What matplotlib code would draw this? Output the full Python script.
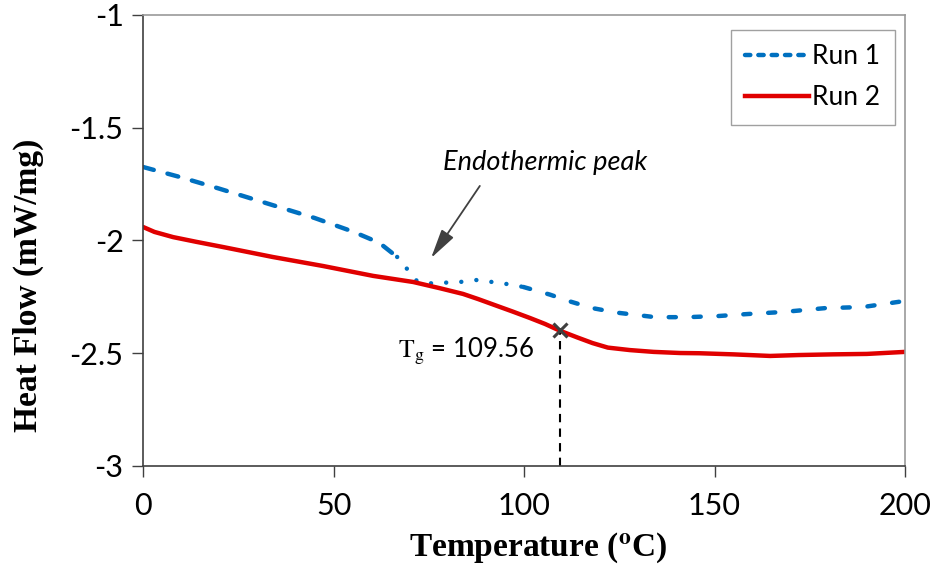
import numpy as np
import matplotlib.pyplot as plt

# DSC curves
run1_t = [0, 10, 20, 34, 45, 55, 62, 66.7, 69.3, 71.9, 75.3, 83.2, 87.7, 95.5, 99.8,
          106.8, 112, 118, 124.4, 134.4, 142.8, 151, 158.8, 168, 179, 189, 200]
run1_hf = [-1.674, -1.72, -1.77, -1.843, -1.90, -1.96, -2.01, -2.073, -2.126, -2.18,
           -2.19, -2.184, -2.175, -2.193, -2.206, -2.24, -2.27, -2.30, -2.32, -2.34,
           -2.34, -2.335, -2.326, -2.317, -2.30, -2.295, -2.268]
run2_t = [0, 3, 7.9, 14, 21, 34, 47.2, 60.4, 70.9, 78, 84, 88, 92.9, 97, 101.6, 105.5,
          109.4, 114, 118, 122, 127.8, 134, 141, 146, 155, 164.6, 172, 181, 190, 200]
run2_hf = [-1.94, -1.962, -1.985, -2.006, -2.029, -2.073, -2.113, -2.157, -2.184,
           -2.212, -2.237, -2.26, -2.29, -2.315, -2.344, -2.37, -2.40, -2.43, -2.455,
           -2.475, -2.486, -2.494, -2.499, -2.50, -2.505, -2.512, -2.508, -2.505,
           -2.503, -2.494]

tg = 109.56
tg_hf = -2.397

x_ticks = [0, 50, 100, 150, 200]
y_ticks = [-3, -2.5, -2, -1.5, -1]
y_ticklabels = ['-3', '-2.5', '-2', '-1.5', '-1']

plt.rcParams['font.family'] = ['Lato', 'DejaVu Sans']
plt.rcParams['mathtext.fontset'] = 'stix'

fig = plt.figure(figsize=(9.33, 5.66), dpi=100)
ax = fig.add_axes([0.1533, 0.1767, 0.8167, 0.7968])

blue = '#0070C0'
red = '#E00000'

t1 = np.array(run1_t)
h1 = np.array(run1_hf)
# excel dash pattern gets dotty where the curve bends
m1 = t1 <= 66.7
m2 = (t1 >= 66.7) & (t1 <= 99.8)
m3 = t1 >= 99.8
ax.plot(t1[m1], h1[m1], color=blue, lw=3.2, dashes=(2.5, 3.2), dash_capstyle='round')
ax.plot(t1[m2], h1[m2], color=blue, lw=3.2, dashes=(0.01, 3.4), dash_capstyle='round')
ax.plot(t1[m3], h1[m3], color=blue, lw=3.2, dashes=(1.6, 4.0), dash_capstyle='round')
ax.plot(run2_t, run2_hf, color=red, lw=3.2, solid_capstyle='round',
        solid_joinstyle='round')

# legend proxies
l1, = ax.plot([], [], color=blue, lw=3.2, dashes=(1.2, 1.8), dash_capstyle='round',
              label='Run 1')
l2, = ax.plot([], [], color=red, lw=3.2, label='Run 2')
leg = ax.legend(handles=[l1, l2], loc='upper right', fontsize=19, frameon=True,
                fancybox=False, edgecolor='#888888', handlelength=2.4,
                handletextpad=0.15, labelspacing=0.6, borderpad=0.55,
                borderaxespad=0, bbox_to_anchor=(0.987, 0.967))
leg.get_frame().set_linewidth(1.0)

# Tg marker and drop line
ax.plot([tg, tg], [-3, tg_hf], color='black', lw=1.5, ls=(0, (4, 3)))
ax.plot([tg], [tg_hf], marker='x', color='#404040', ms=10, mew=2.2)
ax.text(102.6, -2.49, r'$\mathrm{T_g}$' + ' = 109.56', fontsize=18.5,
        ha='right', va='center')

ax.text(105.5, -1.656, 'Endothermic peak', fontsize=19.5, style='italic',
        ha='center', va='center')
ax.annotate('', xy=(75.6, -2.078), xytext=(88.4, -1.758),
            arrowprops=dict(arrowstyle='-|>,head_width=0.22,head_length=0.9',
                            color='#404040', lw=1.3, mutation_scale=20,
                            shrinkA=0, shrinkB=0))

ax.set_xlim(0, 200)
ax.set_ylim(-3, -1)
ax.set_xticks(x_ticks)
ax.set_yticks(y_ticks)
ax.set_yticklabels(y_ticklabels)
ax.tick_params(axis='both', labelsize=22, direction='out', length=8, width=1,
               color='#404040')
ax.tick_params(axis='x', pad=11)
ax.tick_params(axis='y', pad=6)

for s in ['left', 'bottom']:
    ax.spines[s].set_color('#404040')
    ax.spines[s].set_linewidth(1.2)
for s in ['top', 'right']:
    ax.spines[s].set_color('#999999')
    ax.spines[s].set_linewidth(1.2)

ax.set_xlabel(r'Temperature ($^{\mathbf{o}}$C)', fontsize=24, fontweight='bold',
              family='Liberation Serif')
ax.set_ylabel('Heat Flow (mW/mg)', fontsize=24, fontweight='bold',
              family='Liberation Serif')
ax.xaxis.set_label_coords(0.518, -0.182)
ax.yaxis.set_label_coords(-0.151, 0.401)
ax.xaxis.label.set_va('center')
ax.yaxis.label.set_va('center')

fig.savefig('out.png', dpi=100)
